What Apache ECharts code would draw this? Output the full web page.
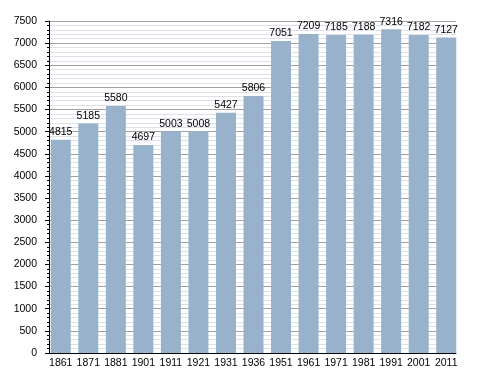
<!DOCTYPE html>
<html><head><meta charset="utf-8">
<script src="https://cdn.jsdelivr.net/npm/echarts@6/dist/echarts.min.js"></script>
<style>html,body{margin:0;padding:0;background:#fff}#c{width:488px;height:373px}</style>
</head><body><div id="c"></div>
<script>
var categories = ['1861','1871','1881','1901','1911','1921','1931','1936','1951','1961','1971','1981','1991','2001','2011'];
var population = [4815,5185,5580,4697,5003,5008,5427,5806,7051,7209,7185,7188,7316,7182,7127];
var yMin = 0, yMax = 7500, yStep = 500;

var chart = echarts.init(document.getElementById('c'), null, {renderer:'canvas'});
var font = 'Liberation Sans, Arial, sans-serif';
chart.setOption({
  animation: false,
  backgroundColor: '#fff',
  grid: [
    {left: 49, right: 32, top: 21, bottom: 20},
    {left: 47, right: 28, top: 21, bottom: 20}
  ],
  xAxis: [
    {gridIndex: 0, type: 'value', min: 0, max: 1, axisLine: {show: true, onZero: false, lineStyle: {color: '#000', width: 1}},
     axisTick: {show: false}, axisLabel: {show: false}, splitLine: {show: false}},
    {gridIndex: 1, type: 'category', data: categories, axisLine: {show: false}, axisTick: {show: false},
     axisLabel: {color: '#000', fontSize: 10.5, fontFamily: font, margin: 5, interval: 0}}
  ],
  yAxis: [
    {gridIndex: 0, type: 'value', min: yMin, max: yMax, interval: yStep,
     axisLine: {show: true, lineStyle: {color: '#000', width: 1}},
     axisTick: {show: true, length: 4, lineStyle: {color: '#000'}},
     minorTick: {show: true, splitNumber: 5, length: 2, lineStyle: {color: '#000'}},
     axisLabel: {color: '#000', fontSize: 10.5, fontFamily: font, margin: 12, formatter: function(v){ return String(v); }},
     splitLine: {show: true, lineStyle: {color: '#a0a0a0', width: 1}},
     minorSplitLine: {show: true, lineStyle: {color: '#dde2ea', width: 1}}},
    {gridIndex: 1, type: 'value', min: yMin, max: yMax, interval: yStep, show: false,
     splitLine: {show: false}}
  ],
  series: [{
    type: 'bar', xAxisIndex: 1, yAxisIndex: 1, data: population, barWidth: 20,
    itemStyle: {color: '#98b2cc'},
    label: {show: true, position: 'top', distance: 2, color: '#000', fontSize: 10.5, fontFamily: font}
  }]
});
</script></body></html>
